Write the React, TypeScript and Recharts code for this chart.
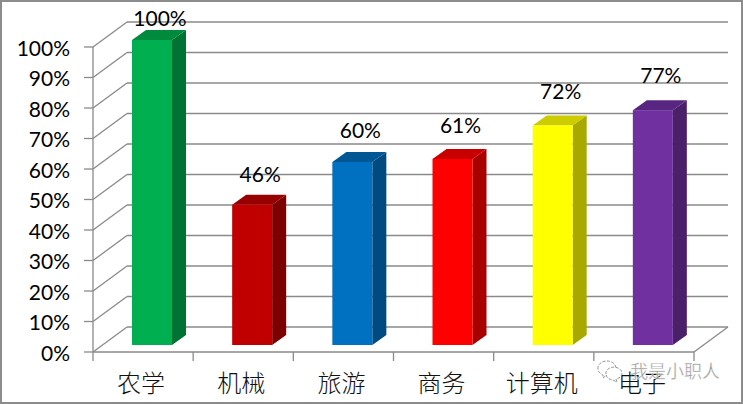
import { Bar, BarChart, CartesianGrid, LabelList, XAxis, YAxis } from "recharts";

const categories = ["农学", "机械", "旅游", "商务", "计算机", "电子"];
const rates = [100, 46, 60, 61, 72, 77];
const yTicks = [0, 10, 20, 30, 40, 50, 60, 70, 80, 90, 100];

const frontColors = ["#00b050", "#c00000", "#0070c0", "#ff0000", "#ffff00", "#7030a0"];
const sideColors = ["#007233", "#7c0000", "#004a80", "#a80000", "#a8a800", "#4a2069"];
const topColors = ["#008a3d", "#960000", "#005794", "#c80000", "#cccc00", "#582680"];
const labelLifts = [14, 23, 24, 26, 26, 27];

const chartData = categories.map((name, i) => ({ name, rate: rates[i] }));

const WIDTH = 743;
const HEIGHT = 404;
const LINE = "#8a8a8a";
const LATIN = "Lato, 'Noto Sans', sans-serif";
const CJK = "'Noto Sans CJK SC', sans-serif";

// wall depth of the fake 3D box
const DEPTH_X = 34;
const DEPTH_Y = 25;
// each bar stands a little way into the floor
const BAR_SHIFT_X = 9;
const BAR_SHIFT_Y = 7;
const BAR_DEPTH_X = 14;
const BAR_DEPTH_Y = 10;
const BAND = 100.17;

function WallLine(props: any) {
  const { x1, x2, y1, y2 } = props;
  const backY = y1 - DEPTH_Y;
  const isFloor = y1 > 340;
  return (
    <g stroke={LINE} strokeWidth={1.3} fill="none">
      <line x1={x1} y1={y1} x2={x1 + DEPTH_X} y2={backY} />
      <line x1={x1 + DEPTH_X} y1={backY} x2={x2 + DEPTH_X} y2={y2 - DEPTH_Y} />
      {isFloor && <line x1={x2} y1={y2} x2={x2 + DEPTH_X} y2={y2 - DEPTH_Y} />}
    </g>
  );
}

function Box(props: any) {
  const { x, y, width, height, index } = props;
  const left = x + BAR_SHIFT_X;
  const top = y - BAR_SHIFT_Y;
  const right = left + width;
  const bottom = top + height;
  return (
    <g>
      <polygon
        points={`${right},${top} ${right + BAR_DEPTH_X},${top - BAR_DEPTH_Y} ${right + BAR_DEPTH_X},${bottom - BAR_DEPTH_Y} ${right},${bottom}`}
        fill={sideColors[index]}
      />
      <polygon
        points={`${left},${top} ${left + BAR_DEPTH_X},${top - BAR_DEPTH_Y} ${right + BAR_DEPTH_X},${top - BAR_DEPTH_Y} ${right},${top}`}
        fill={topColors[index]}
      />
      <rect x={left} y={top} width={width} height={height} fill={frontColors[index]} />
    </g>
  );
}

function BarValue(props: any) {
  const { x, y, width, value, index } = props;
  return (
    <text
      x={x + width / 2 + BAR_SHIFT_X + 8}
      y={y - BAR_SHIFT_Y - labelLifts[index]}
      textAnchor="middle"
      fontFamily={LATIN}
      fontSize={21}
      fill="#000"
    >
      {value}%
    </text>
  );
}

function CategoryTick(props: any) {
  const { x, y, payload, index } = props;
  const last = index === categories.length - 1;
  return (
    <g>
      <line x1={x - BAND / 2} y1={352} x2={x - BAND / 2} y2={361} stroke={LINE} strokeWidth={1.3} />
      {last && (
        <line x1={x + BAND / 2} y1={352} x2={x + BAND / 2} y2={361} stroke={LINE} strokeWidth={1.3} />
      )}
      <text
        x={x - 2}
        y={y + 32}
        textAnchor="middle"
        fontFamily={CJK}
        fontWeight={300}
        fontSize={24}
        fill="#111"
      >
        {payload.value}
      </text>
    </g>
  );
}

function Watermark() {
  return (
    <svg
      width={WIDTH}
      height={HEIGHT}
      style={{ position: "absolute", left: 0, top: 0, pointerEvents: "none" }}
    >
      <g fill="#fff" stroke="#777" strokeWidth={0.8} strokeDasharray="3 1.5">
        <path d="M598 369 a9 7 0 1 1 9 6 l-4 3 l0 -3 a9 7 0 0 1 -5 -6 z" />
        <path d="M606 374 a8 6 0 1 1 10 5 l1 3 l-4 -2 a8 6 0 0 1 -7 -6 z" />
      </g>
      <text
        x={630}
        y={378}
        fontFamily={CJK}
        fontSize={18}
        fill="#8a8a8a"
        stroke="#fff"
        strokeWidth={0.4}
        opacity={0.9}
      >
        我是小职人
      </text>
    </svg>
  );
}

export default function App() {
  return (
    <div
      style={{
        position: "absolute",
        left: 0,
        top: 0,
        width: WIDTH,
        height: HEIGHT,
        boxSizing: "border-box",
        border: "2px solid #8c8c8c",
        background: "#fff",
      }}
    >
      <div style={{ position: "absolute", left: -2, top: -2 }}>
        <BarChart
          width={WIDTH}
          height={HEIGHT}
          data={chartData}
          margin={{ top: 47, right: 49, bottom: 0, left: 0 }}
          barCategoryGap={0}
        >
          <CartesianGrid vertical={false} horizontal={(p: any) => <WallLine key={p.y1} {...p} />} />
          <XAxis
            dataKey="name"
            height={52}
            interval={0}
            axisLine={{ stroke: LINE, strokeWidth: 1.3 }}
            tickLine={false}
            tick={CategoryTick}
          />
          <YAxis
            width={93}
            domain={[0, 100]}
            ticks={yTicks}
            interval={0}
            tickFormatter={(v: number) => `${v}%`}
            axisLine={{ stroke: LINE, strokeWidth: 1.3 }}
            tickLine={{ stroke: LINE, strokeWidth: 1.3 }}
            tickSize={9}
            tickMargin={14}
            tick={{ fontFamily: LATIN, fontSize: 21, fill: "#000", dy: 1.5 }}
          />
          <Bar dataKey="rate" barSize={40} shape={Box} isAnimationActive={false}>
            <LabelList dataKey="rate" content={BarValue} />
          </Bar>
        </BarChart>
      </div>
      <div style={{ position: "absolute", left: -2, top: -2 }}>
        <Watermark />
      </div>
    </div>
  );
}
